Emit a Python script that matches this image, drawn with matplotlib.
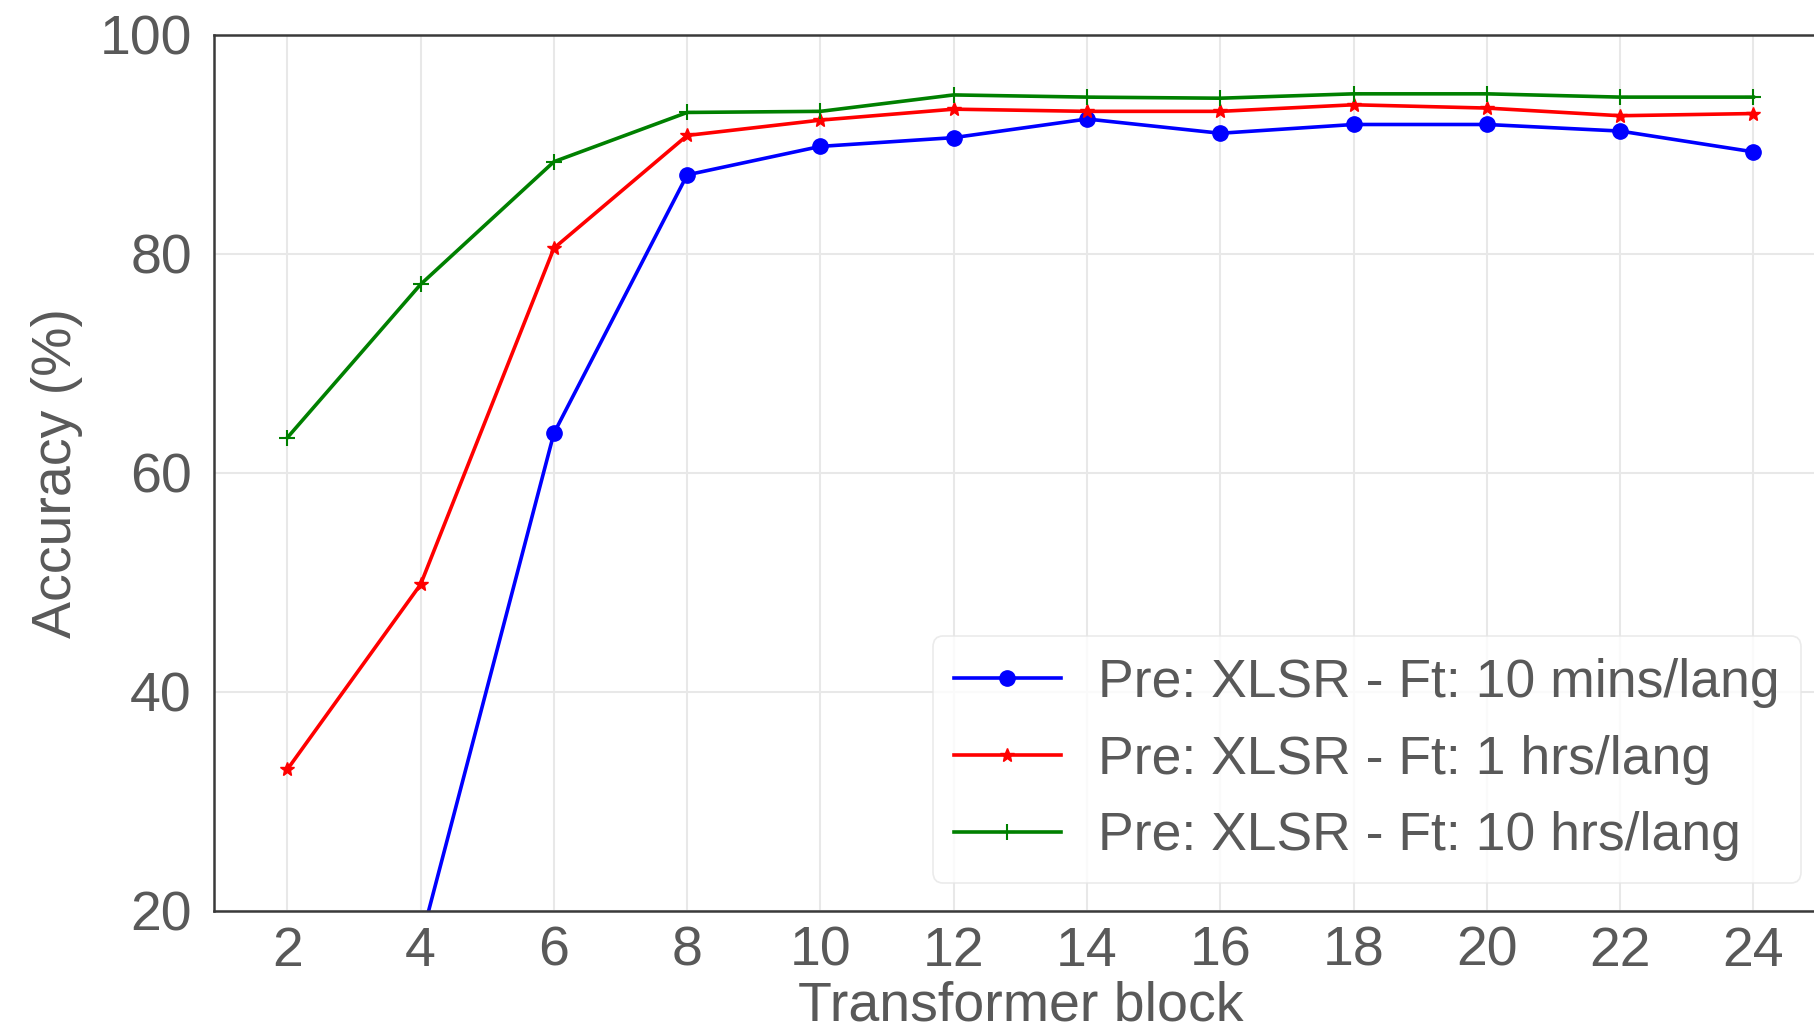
import matplotlib
matplotlib.use("Agg")
import matplotlib.pyplot as plt

blocks = [2, 4, 6, 8, 10, 12, 14, 16, 18, 20, 22, 24]
acc_10min = [8.0, 17.2, 63.6, 87.2, 89.8, 90.6, 92.3, 91.0, 91.8, 91.8, 91.2, 89.3]
acc_1hr = [32.9, 49.8, 80.5, 90.8, 92.2, 93.2, 93.0, 93.0, 93.6, 93.3, 92.6, 92.8]
acc_10hr = [63.2, 77.2, 88.4, 92.9, 93.0, 94.5, 94.3, 94.2, 94.6, 94.6, 94.3, 94.3]
labels = ["Pre: XLSR - Ft: 10 mins/lang",
          "Pre: XLSR - Ft: 1 hrs/lang",
          "Pre: XLSR - Ft: 10 hrs/lang"]
yticks = [20, 40, 60, 80, 100]

txt = "#595959"
plt.rcParams["font.family"] = ["Liberation Sans", "DejaVu Sans"]
plt.rcParams["text.color"] = txt
plt.rcParams["axes.labelcolor"] = txt
plt.rcParams["xtick.color"] = txt
plt.rcParams["ytick.color"] = txt

fig = plt.figure(figsize=(18.14, 10.36), dpi=100)
ax = fig.add_axes([0.118, 0.121, 0.889, 0.8455])

ax.plot(blocks, acc_10min, color="blue", marker="o", markersize=11, lw=2.6, label=labels[0])
ax.plot(blocks, acc_1hr, color="red", marker="*", markersize=10, lw=2.6, label=labels[1])
ax.plot(blocks, acc_10hr, color="green", marker="+", markersize=12, mew=1.5, lw=2.6, label=labels[2])

ax.set_xlim(0.9, 25.1)
ax.set_ylim(20, 100)
ax.set_xticks(blocks)
ax.set_yticks(yticks)
ax.grid(True, color="#e8e8e8", lw=1.5)
ax.set_axisbelow(True)
for s in ax.spines.values():
    s.set_color("#3a3a3a")
    s.set_linewidth(1.8)
ax.tick_params(axis="both", length=0, labelsize=40)
ax.tick_params(axis="y", pad=16)
ax.tick_params(axis="x", pad=11)

ax.set_xlabel("Transformer block", fontsize=40, labelpad=2)
ax.set_ylabel("Accuracy (%)", fontsize=40, labelpad=12)

leg = ax.legend(loc="lower right", bbox_to_anchor=(0.993, 0.148),
                bbox_transform=fig.transFigure, borderaxespad=0,
                fontsize=38.5, frameon=True, fancybox=True, handlelength=2.0,
                handletextpad=0.7, labelspacing=0.5, borderpad=0.4)
leg.get_frame().set_edgecolor("#e6e6e6")
leg.get_frame().set_linewidth(1.2)

fig.savefig("out.png", dpi=100)
